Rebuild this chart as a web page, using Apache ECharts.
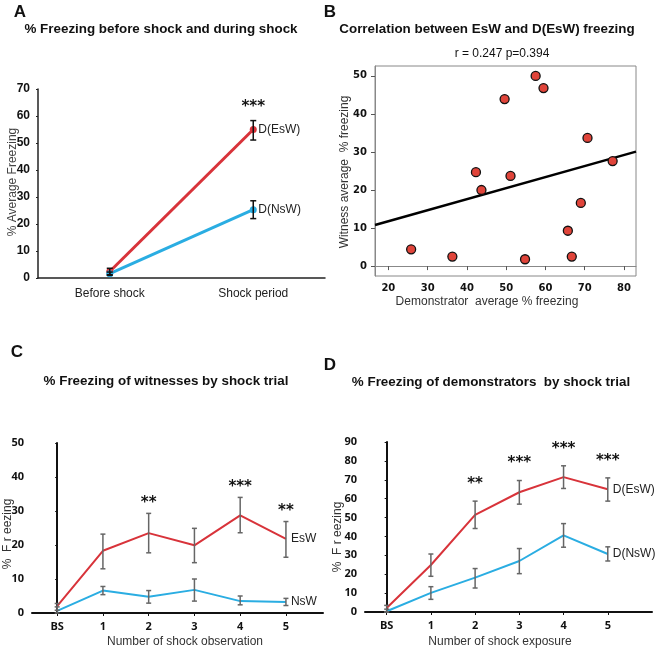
<!DOCTYPE html>
<html>
<head>
<meta charset="UTF-8">
<title>Freezing</title>
<script src="https://cdn.jsdelivr.net/npm/echarts@6/dist/echarts.min.js"></script>
<style>
  html, body { margin: 0; padding: 0; background: #fff; }
  #main { width: 655px; height: 651px; }
</style>
</head>
<body>
<div id="main"></div>
<script>
// ---- panel A: before shock vs shock period
var stepsA = ['Before shock', 'Shock period'];
var aEsW = [2.4, 55.0];
var aEsWLo = [1.2, 51.1];
var aEsWHi = [3.6, 58.3];
var aNsW = [1.6, 25.3];
var aNsWLo = [1.0, 22.0];
var aNsWHi = [2.2, 28.6];
var starsA = ['', '***'];

// ---- panel B: correlation
var demoX = [25.8, 36.3, 42.3, 43.7, 49.6, 51.1, 54.8, 57.5, 59.5, 65.7, 66.7, 69.0, 70.7, 77.1];
var witY = [4.4, 2.5, 24.7, 20.0, 43.9, 23.7, 1.8, 50.0, 46.8, 9.3, 2.5, 16.6, 33.7, 27.6];
var fitX = [16.6, 83.05];
var fitY = [10.8, 30.1];
var ticksBx = [20, 30, 40, 50, 60, 70, 80];
var ticksBy = [0, 10, 20, 30, 40, 50];

// ---- panel C / D: by shock trial (0 = BS)
var trials = [0, 1, 2, 3, 4, 5];
var cEsW = [2.0, 18.3, 23.5, 19.9, 28.7, 21.8];
var cEsWLo = [0.8, 13.0, 17.7, 14.8, 23.6, 16.4];
var cEsWHi = [2.8, 23.2, 29.3, 24.9, 34.0, 26.9];
var cNsW = [0.6, 6.6, 4.8, 6.8, 3.5, 3.2];
var cNsWLo = [0.0, 5.4, 2.9, 3.5, 2.4, 2.2];
var cNsWHi = [1.8, 7.8, 6.6, 10.0, 5.0, 4.3];
var starsC = ['', '', '**', '', '***', '**'];

var dEsW = [2.1, 24.9, 51.4, 63.4, 71.4, 65.0];
var dEsWLo = [0.0, 18.9, 44.2, 57.1, 65.4, 58.7];
var dEsWHi = [3.5, 30.7, 58.7, 69.6, 77.4, 71.0];
var dNsW = [0.4, 10.1, 18.2, 27.0, 40.6, 30.7];
var dNsWLo = [0.0, 6.7, 12.7, 20.3, 34.3, 27.0];
var dNsWHi = [1.5, 13.4, 23.0, 33.6, 46.8, 34.5];
var starsD = ['', '', '**', '***', '***', '***'];

var RED = '#d8333a';
var BLUE = '#2aade2';
var GREY = '#666';

function zip(xs, ys) {
    return xs.map(function (x, i) { return [x, ys[i]]; });
}
function errData(xs, lo, hi) {
    return xs.map(function (x, i) { return [x, lo[i], hi[i]]; });
}

// error bar with caps, plus significance stars above it
function errSeries(xi, yi, data, color, cap, stars, gap) {
    return {
        type: 'custom',
        xAxisIndex: xi,
        yAxisIndex: yi,
        z: 5,
        data: data,
        renderItem: function (params, api) {
            var x = api.value(0);
            var lo = api.coord([x, api.value(1)]);
            var hi = api.coord([x, api.value(2)]);
            var st = { stroke: color, lineWidth: 1.5 };
            var kids = [
                { type: 'line', shape: { x1: lo[0], y1: lo[1], x2: hi[0], y2: hi[1] }, style: st },
                { type: 'line', shape: { x1: lo[0] - cap, y1: lo[1], x2: lo[0] + cap, y2: lo[1] }, style: st },
                { type: 'line', shape: { x1: hi[0] - cap, y1: hi[1], x2: hi[0] + cap, y2: hi[1] }, style: st }
            ];
            var s = stars ? stars[params.dataIndex] : '';
            if (s) {
                kids.push({
                    type: 'text',
                    x: hi[0], y: hi[1] - gap,
                    style: { text: s, fill: '#111', font: 'bold 15px "DejaVu Sans"', align: 'center', verticalAlign: 'middle' }
                });
            }
            return { type: 'group', children: kids };
        }
    };
}

function lineSeries(xi, yi, data, color, width, label, sym) {
    return {
        type: 'line',
        xAxisIndex: xi,
        yAxisIndex: yi,
        data: data,
        symbol: 'circle',
        symbolSize: sym,
        showSymbol: sym > 0,
        itemStyle: { color: color },
        lineStyle: { color: color, width: width },
        animation: false,
        endLabel: {
            show: true,
            formatter: label,
            distance: 5,
            color: '#222',
            fontFamily: 'Liberation Sans',
            fontSize: 12
        }
    };
}

var boldTick = { color: '#111', fontWeight: 'bold', fontFamily: 'Liberation Sans', fontSize: 12 };
var trialTick = { color: '#111', fontWeight: 'bold', fontFamily: 'Open Sans', fontSize: 11 };

function gtext(x, y, txt, font, rot, color) {
    return {
        type: 'text', x: x, y: y, rotation: rot || 0,
        style: { text: txt, font: font, fill: color || '#111', align: 'center', verticalAlign: 'middle' }
    };
}

var chart = echarts.init(document.getElementById('main'));

var option = {
    animation: false,
    grid: [
        { left: 38, top: 89, width: 287, height: 189 },
        { left: 375, top: 66, width: 261, height: 210, show: true, borderColor: '#888', borderWidth: 1 },
        { left: 32, top: 443, width: 291, height: 170 },
        { left: 365, top: 442, width: 287, height: 170 }
    ],
    xAxis: [
        {
            gridIndex: 0, type: 'category', data: stepsA, boundaryGap: true,
            axisLine: { lineStyle: { color: '#222', width: 1.5 } },
            axisTick: { show: false },
            axisLabel: { color: '#222', fontFamily: 'Liberation Sans', fontSize: 12, margin: 10 }
        },
        {
            gridIndex: 1, type: 'value', min: 16.6, max: 83.05,
            axisLine: { lineStyle: { color: '#888' } },
            axisTick: { customValues: ticksBx, length: 4, lineStyle: { color: '#555' } },
            axisLabel: { customValues: ticksBx, color: '#111', fontWeight: 'bold', fontFamily: 'DejaVu Sans', fontSize: 10, margin: 7 },
            splitLine: { show: false }
        },
        {
            gridIndex: 2, type: 'value', min: -0.55, max: 5.81,
            axisLine: { onZero: false, lineStyle: { color: '#111', width: 2 } },
            axisTick: { customValues: trials, length: 3, lineStyle: { color: '#111' } },
            axisLabel: {
                customValues: trials, margin: 8,
                formatter: function (v) { return v === 0 ? 'BS' : String(v); },
                color: '#111', fontWeight: 'bold', fontFamily: 'Open Sans', fontSize: 11
            },
            splitLine: { show: false }
        },
        {
            gridIndex: 3, type: 'value', min: -0.49, max: 6.0,
            axisLine: { onZero: false, lineStyle: { color: '#111', width: 2 } },
            axisTick: { customValues: trials, length: 3, lineStyle: { color: '#111' } },
            axisLabel: {
                customValues: trials, margin: 8,
                formatter: function (v) { return v === 0 ? 'BS' : String(v); },
                color: '#111', fontWeight: 'bold', fontFamily: 'Open Sans', fontSize: 11
            },
            splitLine: { show: false }
        }
    ],
    yAxis: [
        {
            gridIndex: 0, type: 'value', min: 0, max: 70, interval: 10,
            axisLine: { show: true, lineStyle: { color: '#222', width: 1.5 } },
            axisTick: { show: true, length: 2, lineStyle: { color: '#222' } },
            axisLabel: boldTick,
            splitLine: { show: false }
        },
        {
            gridIndex: 1, type: 'value', min: -2.6, max: 52.6,
            axisLine: { show: true, lineStyle: { color: '#888' } },
            axisTick: { show: true, customValues: ticksBy, length: 4, lineStyle: { color: '#555' } },
            axisLabel: { customValues: ticksBy, color: '#111', fontWeight: 'bold', fontFamily: 'DejaVu Sans', fontSize: 10, margin: 8 },
            splitLine: { show: false }
        },
        {
            gridIndex: 2, type: 'value', min: 0, max: 50, interval: 10,
            axisLine: { show: true, lineStyle: { color: '#111', width: 2 } },
            axisTick: { show: true, length: 2, lineStyle: { color: '#111' } },
            axisLabel: trialTick,
            splitLine: { show: false }
        },
        {
            gridIndex: 3, type: 'value', min: 0, max: 90, interval: 10,
            axisLine: { show: true, lineStyle: { color: '#111', width: 2 } },
            axisTick: { show: true, length: 2, lineStyle: { color: '#111' } },
            axisLabel: trialTick,
            splitLine: { show: false }
        }
    ],
    series: [
        // A
        lineSeries(0, 0, aEsW, RED, 3, 'D(EsW)', 7),
        lineSeries(0, 0, aNsW, BLUE, 3, 'D(NsW)', 7),
        errSeries(0, 0, errData([0, 1], aEsWLo, aEsWHi), '#111', 3, starsA, 13),
        errSeries(0, 0, errData([0, 1], aNsWLo, aNsWHi), '#111', 3, null, 0),
        // B
        {
            type: 'line', xAxisIndex: 1, yAxisIndex: 1,
            data: zip(fitX, fitY), showSymbol: false,
            lineStyle: { color: '#000', width: 2.5 }
        },
        {
            type: 'scatter', xAxisIndex: 1, yAxisIndex: 1,
            data: zip(demoX, witY), symbolSize: 9, z: 4,
            itemStyle: { color: '#e0443a', borderColor: '#111', borderWidth: 1.3, opacity: 1 }
        },
        // C
        lineSeries(2, 2, zip(trials, cEsW), RED, 2, 'EsW', 0),
        lineSeries(2, 2, zip(trials, cNsW), BLUE, 2, 'NsW', 0),
        errSeries(2, 2, errData(trials, cEsWLo, cEsWHi), GREY, 2.5, starsC, 10),
        errSeries(2, 2, errData(trials, cNsWLo, cNsWHi), GREY, 2.5, null, 0),
        // D
        lineSeries(3, 3, zip(trials, dEsW), RED, 2, 'D(EsW)', 0),
        lineSeries(3, 3, zip(trials, dNsW), BLUE, 2, 'D(NsW)', 0),
        errSeries(3, 3, errData(trials, dEsWLo, dEsWHi), GREY, 2.5, starsD, 17),
        errSeries(3, 3, errData(trials, dNsWLo, dNsWHi), GREY, 2.5, null, 0)
    ],
    graphic: [
        gtext(20, 12, 'A', 'bold 17px "Liberation Sans"'),
        gtext(330, 12, 'B', 'bold 17px "Liberation Sans"'),
        gtext(17, 352, 'C', 'bold 17px "Liberation Sans"'),
        gtext(330, 365, 'D', 'bold 17px "Liberation Sans"'),
        gtext(161, 29, '% Freezing before shock and during shock', 'bold 13.4px "Liberation Sans"'),
        gtext(487, 29, 'Correlation between EsW and D(EsW) freezing', 'bold 13.4px "Liberation Sans"'),
        gtext(502, 54, 'r = 0.247 p=0.394', '12px "Liberation Sans"'),
        gtext(166, 381, '% Freezing of witnesses by shock trial', 'bold 13.4px "Liberation Sans"'),
        gtext(491, 382, '% Freezing of demonstrators  by shock trial', 'bold 13.4px "Liberation Sans"'),
        gtext(13, 182, '% Average Freezing', '12px "Liberation Sans"', Math.PI / 2, '#444'),
        gtext(345, 172, 'Witness average  % freezing', '12px "Liberation Sans"', Math.PI / 2, '#333'),
        gtext(487, 302, 'Demonstrator  average % freezing', '12px "Liberation Sans"', 0, '#333'),
        gtext(8, 534, '%  F r eezing', '12px "Liberation Sans"', Math.PI / 2, '#333'),
        gtext(185, 642, 'Number of shock observation', '12px "Liberation Sans"', 0, '#333'),
        gtext(338, 537, '%  F r eezing', '12px "Liberation Sans"', Math.PI / 2, '#333'),
        gtext(500, 642, 'Number of shock exposure', '12px "Liberation Sans"', 0, '#333')
    ]
};

chart.setOption(option);
</script>
</body>
</html>
